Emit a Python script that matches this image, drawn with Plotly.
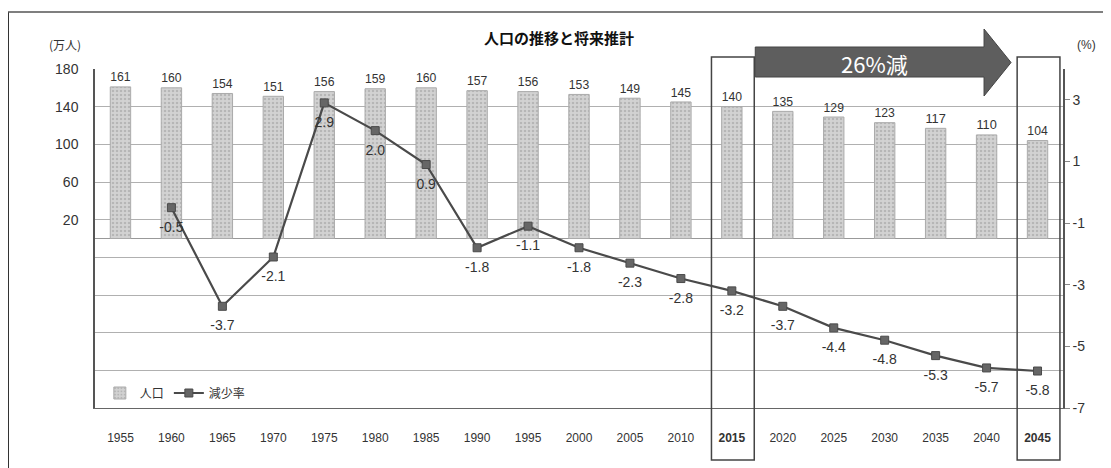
import plotly.graph_objects as go

years = ["1955", "1960", "1965", "1970", "1975", "1980", "1985", "1990", "1995", "2000",
         "2005", "2010", "2015", "2020", "2025", "2030", "2035", "2040", "2045"]
population = [161, 160, 154, 151, 156, 159, 160, 157, 156, 153,
              149, 145, 140, 135, 129, 123, 117, 110, 104]
rate_years = years[1:]
rate = [-0.5, -3.7, -2.1, 2.9, 2.0, 0.9, -1.8, -1.1, -1.8,
        -2.3, -2.8, -3.2, -3.7, -4.4, -4.8, -5.3, -5.7, -5.8]
highlight_years = ["2015", "2045"]
left_ticks = [-180, -140, -100, -60, -20, 20, 60, 100, 140, 180]
right_ticks = [-7, -5, -3, -1, 1, 3]

FONT = "Liberation Sans, Noto Sans CJK JP, sans-serif"
CJK = "Noto Sans CJK JP, sans-serif"

OFF = 8  # browser body margin
W, H = 1111 - OFF, 468 - OFF
PLOT_L, PLOT_R, PLOT_T, PLOT_B = 95, 1063, 69, 408  # reference pixels
ML = PLOT_L - OFF
MT = PLOT_T - OFF
MR = W - (PLOT_R - OFF)
MB = H - (PLOT_B - OFF)
PW = PLOT_R - PLOT_L
PH = PLOT_B - PLOT_T
N = len(years)


def px_x(px):
    return (px - PLOT_L) / PW


def px_y(py):
    return (PLOT_B - py) / PH


def cat_x(v):
    return (v + 0.5) / N


fig = go.Figure()

fig.add_trace(go.Bar(
    x=years, y=population, name="人口",
    marker=dict(color="#d0d0d0", line=dict(color="#aaaaaa", width=1),
                pattern=dict(shape=".", fgcolor="#9a9a9a", bgcolor="#d2d2d2", size=4, solidity=0.3)),
    text=[str(v) for v in population], textposition="outside",
    textfont=dict(family=FONT, size=15, color="#333"),
    cliponaxis=False, yaxis="y",
))

fig.add_trace(go.Scatter(
    x=rate_years, y=rate, name="減少率", mode="lines+markers",
    line=dict(color="#4a4a4a", width=2.2),
    marker=dict(symbol="square", size=8, color="#666", line=dict(color="#4a4a4a", width=1)),
    yaxis="y2", cliponaxis=False,
))

# data labels for the rate line (invisible larger markers push the text further below)
fig.add_trace(go.Scatter(
    x=rate_years, y=rate, mode="markers+text", showlegend=False, hoverinfo="skip",
    marker=dict(size=20, opacity=0),
    text=[f"{v:.1f}" for v in rate], textposition="bottom center",
    textfont=dict(family=FONT, size=14, color="#333"),
    yaxis="y2", cliponaxis=False,
))

shapes = []
for hy in highlight_years:
    i = years.index(hy)
    shapes.append(dict(type="rect", xref="paper", yref="paper",
                       x0=cat_x(i - 0.40), x1=cat_x(i + 0.44),
                       y0=px_y(460), y1=px_y(57),
                       line=dict(color="#444", width=1.5), fillcolor="rgba(0,0,0,0)"))

i0 = years.index(highlight_years[0])
i1 = years.index(highlight_years[1])
xa0 = cat_x(i0 + 0.46)
xh = cat_x(i1 - 1.05)
xt = cat_x(i1 - 0.52)
yb0, yb1 = px_y(77), px_y(47)
yh0, yh1 = px_y(96), px_y(29)
ym = (yh0 + yh1) / 2
path = (f"M {xa0},{yb0} L {xh},{yb0} L {xh},{yh0} L {xt},{ym} "
        f"L {xh},{yh1} L {xh},{yb1} L {xa0},{yb1} Z")
shapes.append(dict(type="path", xref="paper", yref="paper", path=path,
                   fillcolor="#5e5e5e", line=dict(color="#444", width=1)))

shapes.append(dict(type="line", xref="paper", yref="paper",
                   x0=px_x(8), x1=px_x(8), y0=px_y(470), y1=px_y(12),
                   line=dict(color="#333", width=2)))
shapes.append(dict(type="line", xref="paper", yref="paper",
                   x0=px_x(8), x1=px_x(1111), y0=px_y(12), y1=px_y(12),
                   line=dict(color="#555", width=1.5)))

annotations = [
    dict(text="<b>人口の推移と将来推計</b>", xref="paper", yref="paper",
         x=px_x(559), y=px_y(37), xanchor="center", yanchor="middle", showarrow=False,
         font=dict(family=CJK, size=15, color="#111")),
    dict(text="(万人)", xref="paper", yref="paper", x=px_x(47), y=px_y(45),
         xanchor="left", yanchor="middle", showarrow=False,
         font=dict(family=CJK, size=12, color="#333")),
    dict(text="(%)", xref="paper", yref="paper", x=px_x(1075), y=px_y(45),
         xanchor="left", yanchor="middle", showarrow=False,
         font=dict(family=FONT, size=12, color="#333")),
    dict(text="26%減", xref="paper", yref="paper", x=(xa0 + xh) / 2 + 0.005, y=ym,
         xanchor="center", yanchor="middle",
         showarrow=False, font=dict(family=CJK, size=22, color="white")),
]

ticktext_x = [f"<b>{y}</b>" if y in highlight_years else y for y in years]

fig.update_layout(
    width=W, height=H,
    margin=dict(l=ML, r=MR, t=MT, b=MB, pad=0),
    paper_bgcolor="white", plot_bgcolor="white",
    bargap=0.6,
    showlegend=True,
    legend=dict(orientation="h", x=0.005, y=px_y(393), xanchor="left", yanchor="middle",
                bgcolor="rgba(0,0,0,0)", font=dict(family=CJK, size=12, color="#333"),
                itemwidth=30),
    xaxis=dict(type="category", categoryorder="array", categoryarray=years,
               tickvals=years, ticktext=ticktext_x,
               range=[-0.5, N - 0.5], showgrid=False,
               showline=True, linecolor="#666", linewidth=1,
               ticks="", tickfont=dict(family=FONT, size=12, color="#333"),
               ticklabelstandoff=19),
    yaxis=dict(range=[-180, 180], tickvals=left_ticks,
               ticktext=[str(v) if v > 0 else "" for v in left_ticks],
               showgrid=True, gridcolor="#b0b0b0", gridwidth=1,
               zeroline=True, zerolinecolor="#999", zerolinewidth=1,
               showline=True, linecolor="#555", linewidth=1.5,
               tickfont=dict(family=FONT, size=14, color="#333"),
               ticks="", ticklabelstandoff=12),
    yaxis2=dict(range=[-7, 4], tickvals=right_ticks, ticktext=[str(v) for v in right_ticks],
                overlaying="y", side="right",
                showgrid=False, zeroline=False,
                showline=True, linecolor="#555", linewidth=1.5,
                ticks="outside", ticklen=5, tickcolor="#888",
                tickfont=dict(family=FONT, size=14, color="#333")),
    shapes=shapes,
    annotations=annotations,
)

fig.write_html("out.html")
